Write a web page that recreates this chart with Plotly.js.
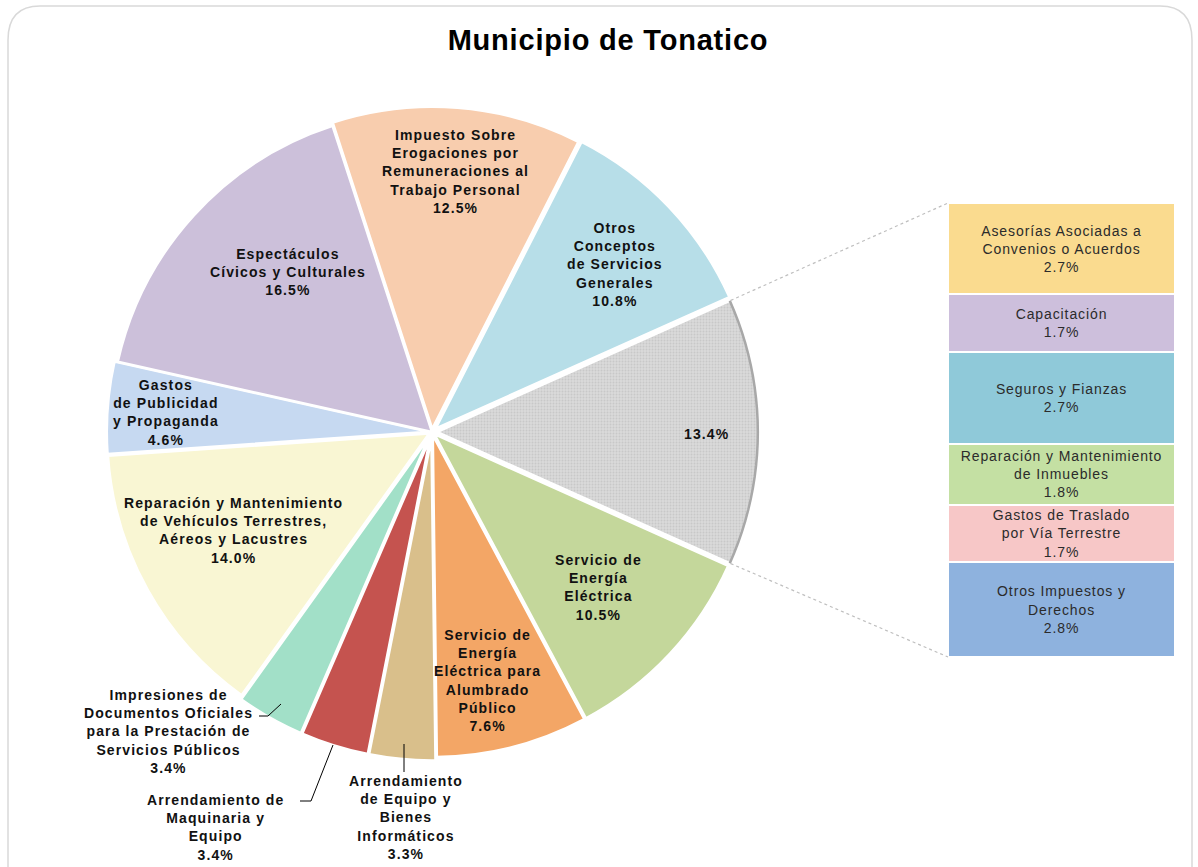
<!DOCTYPE html>
<html>
<head>
<meta charset="utf-8">
<script src="https://cdn.plot.ly/plotly-3.0.1.min.js"></script>
<style>
  html, body { margin: 0; padding: 0; background: #fff; }
  #chart { width: 1198px; height: 867px; }
</style>
</head>
<body>
<div id="chart"></div>
<script>
var W = 1198, H = 867;

// pie slices, clockwise, starting with the grouped slice on the right
var pieLabels = [
  'Otros',
  'Servicio de<br>Energía<br>Eléctrica',
  'Servicio de<br>Energía<br>Eléctrica para<br>Alumbrado<br>Público',
  'Arrendamiento<br>de Equipo y<br>Bienes<br>Informáticos',
  'Arrendamiento de<br>Maquinaria y<br>Equipo',
  'Impresiones de<br>Documentos Oficiales<br>para la Prestación de<br>Servicios Públicos',
  'Reparación y Mantenimiento<br>de Vehículos Terrestres,<br>Aéreos y Lacustres',
  'Gastos<br>de Publicidad<br>y Propaganda',
  'Espectáculos<br>Cívicos y Culturales',
  'Impuesto Sobre<br>Erogaciones por<br>Remuneraciones al<br>Trabajo Personal',
  'Otros<br>Conceptos<br>de Servicios<br>Generales'
];
var pieValues = [13.4, 10.5, 7.6, 3.3, 3.4, 3.4, 14.0, 4.6, 16.5, 12.5, 10.8];
var pieColors = ['#D9D9D9', '#C4D79B', '#F3A666', '#D9BF8B', '#C5534F', '#A2E0C8',
                 '#F9F6D3', '#C6D9F1', '#CCC0DA', '#F8CDAE', '#B7DEE8'];

// breakdown of the grouped slice, top to bottom
var barLabels = [
  'Asesorías Asociadas a<br>Convenios o Acuerdos',
  'Capacitación',
  'Seguros y Fianzas',
  'Reparación y Mantenimiento<br>de Inmuebles',
  'Gastos de Traslado<br>por Vía Terrestre',
  'Otros Impuestos y<br>Derechos'
];
var barValues = [2.7, 1.7, 2.7, 1.8, 1.7, 2.8];
var barColors = ['#FADB8F', '#CDBFDC', '#8FC9D9', '#C4E0A3', '#F7C7C7', '#8EB2DE'];

function px(x) { return x / W; }
function py(y) { return 1 - y / H; }

// the reference text is wide, so space the letters a little
function spaced(s, sp) {
  return s.split('<br>').map(function (l) {
    return '<span style="letter-spacing:' + sp + 'px">' + l + '</span>';
  }).join('<br>');
}

// pie geometry (pixels)
var cx = 432, cy = 432, R = 322;
var pulls = [0.015, 0.01, 0.01, 0.02, 0.02, 0.02, 0.01, 0.01, 0, 0.01, 0.015];
var maxPull = Math.max.apply(null, pulls);
var half = R * (1 + maxPull);

var total = pieValues.reduce(function (a, b) { return a + b; }, 0);
var halfAngle = pieValues[0] / total * Math.PI;   // half of the grouped slice

var pie = {
  type: 'pie',
  labels: pieLabels,
  values: pieValues,
  sort: false,
  direction: 'clockwise',
  rotation: 90 - pieValues[0] / total * 180,
  pull: pulls,
  textinfo: 'none',
  hoverinfo: 'none',
  showlegend: false,
  domain: { x: [px(cx - half), px(cx + half)], y: [py(cy + half), py(cy - half)] },
  marker: {
    colors: pieColors,
    line: { color: '#ffffff', width: 2.5 },
    pattern: {
      shape: ['.', '', '', '', '', '', '', '', '', '', ''],
      bgcolor: '#DADADA', fgcolor: '#C8C8C8', size: 3, solidity: 0.3
    }
  }
};

// stacked bar: plotly stacks from the bottom, so go in reverse
var bars = [];
for (var i = barValues.length - 1; i >= 0; i--) {
  bars.push({
    type: 'bar',
    x: [0],
    y: [barValues[i]],
    width: [1],
    text: [spaced(barLabels[i] + '<br>' + barValues[i].toFixed(1) + '%', 0.9)],
    textposition: 'inside',
    insidetextanchor: 'middle',
    textangle: 0,
    constraintext: 'none',
    textfont: { family: 'Liberation Sans, Arial, sans-serif', size: 14, color: '#2b2b2b' },
    marker: { color: barColors[i], line: { color: '#ffffff', width: 2 } },
    hoverinfo: 'none',
    showlegend: false,
    xaxis: 'x', yaxis: 'y'
  });
}

var barX = [px(948), px(1175)];
var barY = [py(657), py(203)];

// pie label placement (pixel centres)
var labelPos = [[706, 434], [598, 587], [487, 680], [406, 817], [215, 827], [168, 731],
                [233, 530], [166, 412], [288, 272], [455, 171], [615, 265]];

var annotations = pieLabels.map(function (lab, k) {
  var pct = pieValues[k].toFixed(1) + '%';
  return {
    xref: 'paper', yref: 'paper',
    x: px(labelPos[k][0]), y: py(labelPos[k][1]),
    xanchor: 'center', yanchor: 'middle',
    text: '<b>' + spaced(k === 0 ? pct : lab + '<br>' + pct, 1.1) + '</b>',
    showarrow: false,
    font: { family: 'Liberation Sans, Arial, sans-serif', size: 14, color: '#111' }
  };
});

// connector lines from the grouped slice to the bar corners
var ex = cx + pulls[0] * R + R * Math.cos(halfAngle);
var eyTop = cy - R * Math.sin(halfAngle);
var eyBot = cy + R * Math.sin(halfAngle);
var dashLine = { color: '#BFBFBF', width: 1.2, dash: 'dot' };

var shapes = [
  // outer rounded frame
  { type: 'path', xref: 'paper', yref: 'paper',
    path: 'M ' + px(8) + ',' + py(40) + ' Q ' + px(8) + ',' + py(6) + ' ' + px(40) + ',' + py(6) +
          ' L ' + px(1160) + ',' + py(6) + ' Q ' + px(1192) + ',' + py(6) + ' ' + px(1192) + ',' + py(40) +
          ' L ' + px(1192) + ',' + py(900) + ' L ' + px(8) + ',' + py(900) + ' Z',
    line: { color: '#D9D9D9', width: 1.5 }, fillcolor: 'rgba(0,0,0,0)', layer: 'below' },
  // darker rim on the grouped slice
  { type: 'path', xref: 'paper', yref: 'paper',
    path: (function () {
      var p = '', n = 24, sx = cx + pulls[0] * R;
      for (var j = 0; j <= n; j++) {
        var a = halfAngle - 2 * halfAngle * j / n;
        p += (j ? ' L ' : 'M ') + px(sx + (R - 1) * Math.cos(a)) + ',' + py(cy - (R - 1) * Math.sin(a));
      }
      return p;
    })(),
    line: { color: '#A8A8A8', width: 2.5 } },
  { type: 'line', xref: 'paper', yref: 'paper', x0: px(ex), y0: py(eyTop), x1: barX[0], y1: barY[1], line: dashLine },
  { type: 'line', xref: 'paper', yref: 'paper', x0: px(ex), y0: py(eyBot), x1: barX[0], y1: barY[0], line: dashLine },
  // leader lines of the outside labels
  { type: 'path', xref: 'paper', yref: 'paper',
    path: 'M ' + px(259) + ',' + py(716) + ' L ' + px(268) + ',' + py(716) + ' L ' + px(281) + ',' + py(704),
    line: { color: '#000', width: 1 } },
  { type: 'path', xref: 'paper', yref: 'paper',
    path: 'M ' + px(300) + ',' + py(801) + ' L ' + px(311) + ',' + py(801) + ' L ' + px(333) + ',' + py(745),
    line: { color: '#000', width: 1 } },
  { type: 'line', xref: 'paper', yref: 'paper', x0: px(404), y0: py(772), x1: px(404), y1: py(744),
    line: { color: '#000', width: 1 } }
];

var layout = {
  width: W, height: H,
  margin: { l: 0, r: 0, t: 0, b: 0 },
  paper_bgcolor: '#ffffff',
  plot_bgcolor: 'rgba(0,0,0,0)',
  title: {
    text: '<b>' + spaced('Municipio de Tonatico', 0.8) + '</b>',
    x: px(608), xanchor: 'center',
    y: py(40), yanchor: 'middle',
    font: { family: 'Liberation Sans, Arial, sans-serif', size: 29, color: '#000' }
  },
  barmode: 'stack',
  xaxis: { domain: barX, range: [-0.5, 0.5], visible: false, fixedrange: true },
  yaxis: { domain: barY, range: [0, pieValues[0]], visible: false, fixedrange: true },
  annotations: annotations,
  shapes: shapes
};

Plotly.newPlot('chart', [pie].concat(bars), layout, { displayModeBar: false, staticPlot: true });
</script>
</body>
</html>
